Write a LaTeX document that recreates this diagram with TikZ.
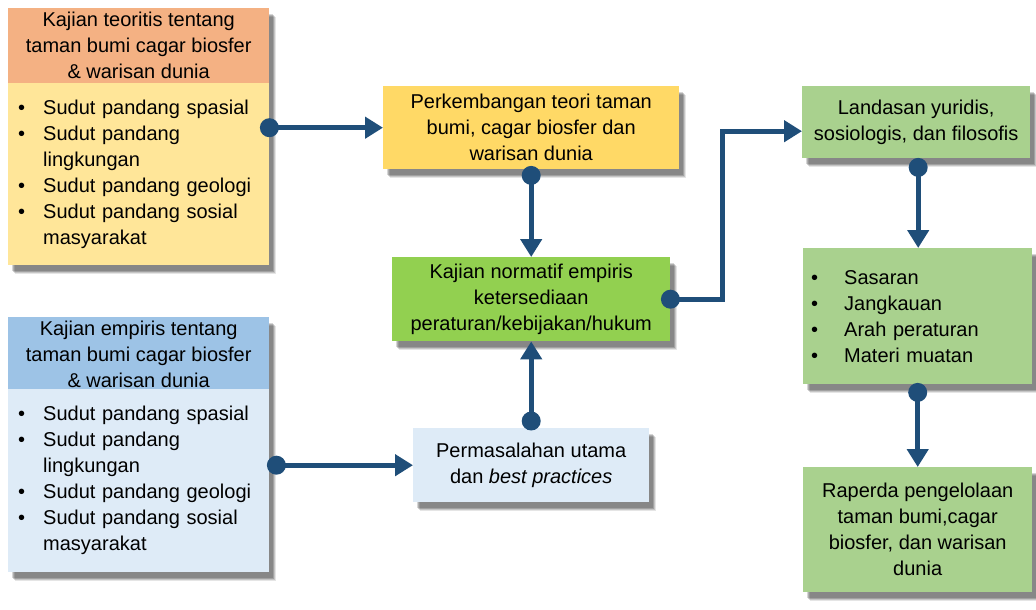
\documentclass[tikz,border=0pt]{standalone}
\usepackage{fontspec}
\setmainfont{Liberation Sans}
\usetikzlibrary{arrows.meta,shadows,calc,backgrounds}
\definecolor{conncol}{RGB}{31,78,121}
\definecolor{hdorange}{RGB}{244,177,131}
\definecolor{bdyellow}{RGB}{255,230,153}
\definecolor{hdblue}{RGB}{157,195,230}
\definecolor{bdblue}{RGB}{222,235,247}
\definecolor{goldbox}{RGB}{255,217,102}
\definecolor{limebox}{RGB}{146,208,80}
\definecolor{sagebox}{RGB}{169,209,142}
\newcommand{\bulL}[1]{\makebox[25pt][l]{•}#1}
\newcommand{\contL}[1]{\hspace*{25pt}#1}
\newcommand{\bulR}[1]{\makebox[33pt][l]{•}#1}
\tikzset{
  softshadow/.style={
    drop shadow={shadow xshift=7pt, shadow yshift=-9pt, fill=black, opacity=0.10},
    drop shadow={shadow xshift=6pt, shadow yshift=-8pt, fill=black, opacity=0.14},
    drop shadow={shadow xshift=5pt, shadow yshift=-7pt, fill=black, opacity=0.18},
    drop shadow={shadow xshift=4pt, shadow yshift=-6pt, fill=black, opacity=0.16}},
  plainbox/.style={rectangle, anchor=north west, inner sep=4pt, align=center,
    font=\fontsize{20}{26}\selectfont, text=black},
  box/.style={plainbox, softshadow},
  link/.style={line width=5pt, draw=conncol, -{Triangle[width=21pt,length=18pt]}},
  dotc/.style={fill=conncol},
}
\begin{document}
\begin{tikzpicture}[x=1pt,y=-1pt]
\useasboundingbox (0,0) rectangle (1036,610);
% left top
\node[plainbox, fill=hdorange, minimum width=261pt, minimum height=75pt] (th) at (8,8)
  {Kajian teoritis tentang\\taman bumi cagar biosfer\\\& warisan dunia};
\node[plainbox, fill=bdyellow, minimum height=182pt, inner xsep=10pt, text width=241pt, align=left] (tb) at (8,83)
  {\bulL{Sudut pandang spasial}\\\bulL{Sudut pandang}\\\contL{lingkungan}\\\bulL{Sudut pandang geologi}\\\bulL{Sudut pandang sosial}\\\contL{masyarakat}};
% left bottom
\node[plainbox, fill=hdblue, minimum width=261pt, minimum height=72pt] (eh) at (8,317)
  {Kajian empiris tentang\\taman bumi cagar biosfer\\\& warisan dunia};
\node[plainbox, fill=bdblue, minimum height=183pt, inner xsep=10pt, text width=241pt, align=left] (eb) at (8,389)
  {\bulL{Sudut pandang spasial}\\\bulL{Sudut pandang}\\\contL{lingkungan}\\\bulL{Sudut pandang geologi}\\\bulL{Sudut pandang sosial}\\\contL{masyarakat}};
\begin{scope}[on background layer]
  \path[softshadow] (th.north west) rectangle (tb.south east);
  \path[softshadow] (eh.north west) rectangle (eb.south east);
\end{scope}
% middle
\node[box, fill=goldbox, minimum width=296pt, minimum height=83pt] (pk) at (383,86)
  {Perkembangan teori taman\\bumi, cagar biosfer dan\\warisan dunia};
\node[box, fill=limebox, minimum width=278pt, minimum height=84pt] (kn) at (392,257)
  {Kajian normatif empiris\\ketersediaan\\peraturan/kebijakan/hukum};
\node[box, fill=bdblue, minimum width=236pt, minimum height=74pt] (pm) at (413,428)
  {Permasalahan utama\\dan \textit{best practices}};
% right
\node[box, fill=sagebox, minimum width=228pt, minimum height=72pt] (ld) at (802,86)
  {Landasan yuridis,\\sosiologis, dan filosofis};
\node[box, fill=sagebox, minimum height=136pt, inner xsep=8pt, text width=213pt, align=left] (ss) at (803,248)
  {\bulR{Sasaran}\\\bulR{Jangkauan}\\\bulR{Arah peraturan}\\\bulR{Materi muatan}};
\node[box, fill=sagebox, minimum width=229pt, minimum height=125pt] (rp) at (803,467)
  {Raperda pengelolaan\\taman bumi,cagar\\biosfer, dan warisan\\dunia};
% connectors
\coordinate (d1) at (tb.east |- pk.west);
\coordinate (d2) at ($(pk.south)+(0,6)$);
\coordinate (d3) at (kn.east);
\coordinate (d4) at ($(pm.north)+(0,-7)$);
\coordinate (d5) at ($(eb.east |- pm.west)+(7,0)$);
\coordinate (d6) at ($(ld.south)+(2,9)$);
\coordinate (d7) at ($(ss.south)+(0,8)$);
\draw[link] (d1) -- (pk.west);
\draw[link] (d2) -- (kn.north);
\draw[link] (d3) -- ++(52,0) |- ($(ld.west)+(0,9)$);
\draw[link] (d4) -- (kn.south);
\draw[link] (d5) -- (pm.west);
\draw[link] (d6) -- (d6 |- ss.north);
\draw[link] (d7) -- (rp.north);
\foreach \d in {d1,d2,d3,d4,d5,d6,d7} \fill[dotc] (\d) circle (9.5pt);
\end{tikzpicture}
\end{document}
